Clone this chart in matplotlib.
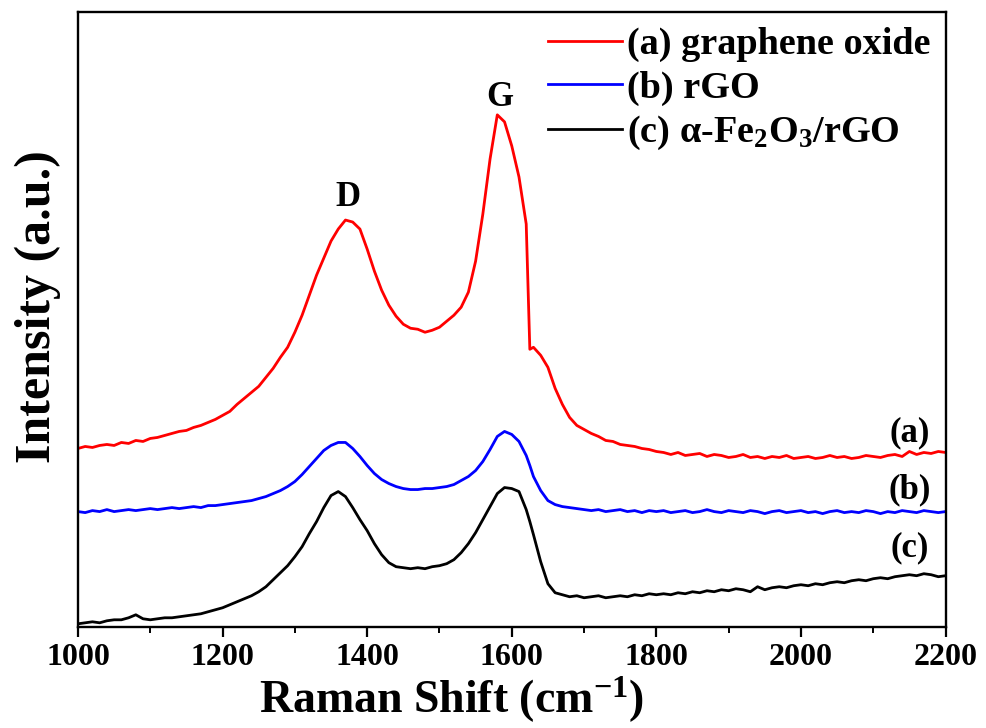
#!/usr/bin/env python3
"""
Raman spectra of graphene oxide, rGO and alpha-Fe2O3/rGO (D and G bands).
"""

import matplotlib
matplotlib.use("Agg")
import matplotlib.pyplot as plt
import matplotlib.ticker as ticker

# === Datos ===
# Raman shift (cm-1), 10 cm-1 steps plus one extra point on the sharp G-band edge
SHIFT = list(range(1000, 1621, 10)) + [1625] + list(range(1630, 2201, 10))

# Intensities in arbitrary units (curves already offset for stacking)
GO = [
    178, 180, 179, 181, 182, 181, 184, 183, 186, 185,
    188, 189, 191, 193, 195, 196, 199, 201, 204, 207,
    211, 215, 222, 228, 234, 240, 249, 258, 269, 279,
    294, 311, 331, 351, 368, 385, 397, 406, 404, 397,
    377, 355, 336, 321, 310, 302, 298, 297, 294, 296,
    299, 305, 311, 319, 334, 365, 412, 467, 511, 504,
    480, 449, 402, 277,
    279, 271, 259, 238, 222, 209, 201, 197, 193, 190,
    186, 185, 182, 181, 180, 178, 177, 175, 174, 172,
    174, 171, 172, 173, 170, 172, 171, 169, 170, 172,
    169, 170, 168, 170, 169, 171, 168, 169, 170, 168,
    169, 171, 169, 170, 168, 169, 171, 170, 169, 171,
    172, 170, 175, 172, 174, 173, 175, 174,
]

RGO = [
    115, 114, 116, 115, 117, 115, 116, 117, 116, 117,
    118, 117, 118, 119, 118, 119, 120, 119, 121, 121,
    122, 123, 124, 125, 126, 128, 130, 133, 136, 140,
    145, 152, 160, 168, 176, 181, 184, 184, 178, 170,
    161, 153, 147, 143, 140, 138, 137, 137, 138, 138,
    139, 140, 142, 146, 150, 156, 165, 177, 190, 195,
    192, 185, 171, 161,
    150, 136, 126, 122, 120, 119, 118, 117, 116, 117,
    115, 116, 117, 115, 116, 114, 116, 115, 116, 114,
    115, 116, 114, 115, 117, 115, 114, 116, 115, 114,
    116, 115, 113, 115, 116, 114, 115, 116, 114, 115,
    113, 115, 116, 114, 115, 114, 116, 115, 113, 115,
    114, 116, 115, 114, 116, 115, 114, 115,
]

FE2O3_RGO = [
    3, 4, 5, 4, 6, 7, 7, 9, 12, 8,
    7, 8, 9, 9, 10, 11, 12, 13, 15, 17,
    19, 22, 25, 28, 31, 35, 40, 47, 54, 61,
    70, 80, 93, 105, 119, 131, 135, 130, 119, 107,
    96, 83, 72, 64, 60, 59, 58, 59, 58, 60,
    61, 63, 67, 74, 83, 94, 107, 120, 133, 139,
    138, 135, 117, 105,
    92, 65, 43, 34, 32, 30, 31, 29, 30, 31,
    29, 30, 31, 30, 32, 31, 33, 32, 33, 32,
    34, 33, 35, 34, 36, 35, 37, 36, 38, 37,
    35, 40, 37, 39, 40, 39, 41, 42, 41, 43,
    42, 44, 45, 44, 46, 47, 46, 48, 49, 48,
    50, 51, 52, 51, 53, 52, 50, 51,
]

LABELS = [
    "(a) graphene oxide",
    "(b) rGO",
    r"(c) α-Fe$_{2}$O$_{3}$/rGO",
]
COLORS = ["#ff0000", "#0000ff", "#000000"]

# curve tags on the right: (text, intensity of tag centre)
TAGS = [("(a)", 194), ("(b)", 137), ("(c)", 79)]
TAG_SHIFT = 2150

# band labels: (text, shift, baseline intensity)
BANDS = [("D", 1374, 420), ("G", 1584, 520)]


def plot_raman():
    plt.rcParams["font.family"] = ["Liberation Serif", "DejaVu Serif"]
    plt.rcParams["font.weight"] = "bold"
    plt.rcParams["mathtext.fontset"] = "custom"
    plt.rcParams["mathtext.rm"] = "Liberation Serif:bold"
    plt.rcParams["mathtext.it"] = "Liberation Serif:bold"
    plt.rcParams["mathtext.bf"] = "Liberation Serif:bold"

    fig = plt.figure(figsize=(9.87, 7.28), dpi=100)
    ax = fig.add_axes([0.079, 0.139, 0.879, 0.845])

    series = [GO, RGO, FE2O3_RGO]
    for y, label, color in zip(series, LABELS, COLORS):
        ax.plot(SHIFT, y, color=color, linewidth=2.0, label=label)

    for tag, y in TAGS:
        ax.text(TAG_SHIFT, y, tag, fontsize=25, fontweight="bold",
                ha="center", va="center")

    for txt, x, y in BANDS:
        ax.text(x, y, txt, fontsize=25, fontweight="bold",
                ha="center", va="baseline")

    ax.set_xlim(1000, 2200)
    ax.set_ylim(0, 614)
    ax.xaxis.set_major_locator(ticker.MultipleLocator(200))
    ax.xaxis.set_minor_locator(ticker.MultipleLocator(100))
    ax.tick_params(axis="x", which="major", direction="out", length=7,
                   width=1.6, labelsize=23, pad=5)
    ax.tick_params(axis="x", which="minor", direction="out", length=4,
                   width=1.4)
    ax.tick_params(axis="y", left=False, labelleft=False)
    for lbl in ax.get_xticklabels():
        lbl.set_fontweight("bold")
    for spine in ax.spines.values():
        spine.set_linewidth(1.7)

    ax.set_xlabel(r"Raman Shift (cm$^{-1}$)", fontsize=33, fontweight="bold")
    ax.xaxis.set_label_coords(0.43, -0.141, transform=ax.transAxes)
    ax.xaxis.label.set_va("baseline")
    ax.set_ylabel("Intensity (a.u.)", fontsize=36, fontweight="bold")
    ax.yaxis.set_label_coords(-0.02, 0.52)

    ax.legend(loc="upper right", bbox_to_anchor=(1.0, 1.0), frameon=False,
              fontsize=27.5, handlelength=1.95, handletextpad=0.12,
              labelspacing=0.22, borderaxespad=0.1, borderpad=0.3)

    fig.savefig("out.png", dpi=100)


if __name__ == "__main__":
    plot_raman()
